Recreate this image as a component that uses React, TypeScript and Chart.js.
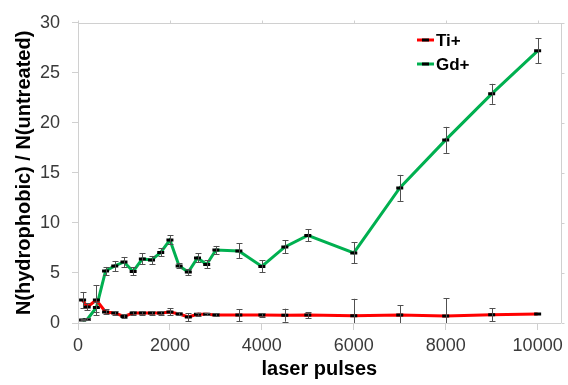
import React, { useEffect, useRef } from "react";
import { Chart, registerables } from "chart.js";

Chart.register(...registerables);

const pulses = [100, 200, 400, 600, 800, 1000, 1200, 1400, 1600, 1800, 2000, 2200, 2400, 2600, 2800, 3000, 3500, 4000, 4500, 5000, 6000, 7000, 8000, 9000, 10000];
const tiValues = [2.3, 1.6, 2.3, 1.1, 1.0, 0.65, 1.0, 1.0, 1.0, 1.0, 1.1, 0.9, 0.6, 0.88, 0.88, 0.8, 0.8, 0.8, 0.78, 0.8, 0.72, 0.8, 0.7, 0.82, 0.9];
const tiErrors = [0.8, 0.35, 1.5, 0.25, 0.2, 0.2, 0.2, 0.2, 0.2, 0.2, 0.35, 0.15, 0.4, 0.15, 0.1, 0.15, 0.6, 0.2, 0.65, 0.3, 1.7, 0.95, 1.75, 0.65, 0];
const gdValues = [0.3, 0.35, 1.55, 5.2, 5.7, 6.1, 5.15, 6.4, 6.3, 7.05, 8.3, 5.7, 5.1, 6.5, 5.85, 7.3, 7.2, 5.65, 7.6, 8.75, 7.0, 13.5, 18.3, 22.9, 27.2];
const gdErrors = [0.05, 0.1, 0.5, 0.4, 0.5, 0.5, 0.4, 0.55, 0.4, 0.4, 0.45, 0.25, 0.3, 0.45, 0.4, 0.4, 0.75, 0.6, 0.65, 0.6, 1.05, 1.3, 1.3, 1.0, 1.25];
const seriesNames = ["Ti+", "Gd+"];
const seriesColors = ["#ff0000", "#00b050"];
const xTicks = [0, 2000, 4000, 6000, 8000, 10000];
const yTicks = [0, 5, 10, 15, 20, 25, 30];

const FRAME = "#d0d0d0";

const errorBarPlugin = {
  id: "errorBars",
  afterDatasetsDraw(chart: any) {
    const { ctx, chartArea, scales } = chart;
    const x = scales.x;
    const y = scales.y;
    const errs = [tiErrors, gdErrors];
    ctx.save();
    ctx.beginPath();
    ctx.rect(chartArea.left, chartArea.top - 1, chartArea.right - chartArea.left, chartArea.bottom - chartArea.top + 1);
    ctx.clip();
    ctx.strokeStyle = "#505050";
    ctx.lineWidth = 1;
    chart.data.datasets.forEach((ds: any, di: number) => {
      ds.data.forEach((p: any, i: number) => {
        const e = errs[di][i];
        if (!e) return;
        const px = Math.round(x.getPixelForValue(p.x)) + 0.5;
        const y1 = y.getPixelForValue(p.y + e);
        const y2 = y.getPixelForValue(p.y - e);
        ctx.beginPath();
        ctx.moveTo(px, y1);
        ctx.lineTo(px, y2);
        ctx.moveTo(px - 3, Math.round(y1) + 0.5);
        ctx.lineTo(px + 3, Math.round(y1) + 0.5);
        ctx.moveTo(px - 3, Math.round(y2) + 0.5);
        ctx.lineTo(px + 3, Math.round(y2) + 0.5);
        ctx.stroke();
      });
    });
    ctx.restore();
  },
  afterDraw(chart: any) {
    const { ctx, chartArea, scales } = chart;
    const x = scales.x;
    const y = scales.y;
    ctx.save();
    ctx.strokeStyle = FRAME;
    ctx.lineWidth = 1;
    const top = Math.round(chartArea.top) + 0.5;
    const right = Math.round(chartArea.right) + 0.5;
    ctx.beginPath();
    ctx.moveTo(chartArea.left, top);
    ctx.lineTo(right + 2, top);
    ctx.moveTo(right, top);
    ctx.lineTo(right, chartArea.bottom);
    xTicks.forEach((v) => {
      const px = Math.round(x.getPixelForValue(v)) + 0.5;
      ctx.moveTo(px, top);
      ctx.lineTo(px, top - 3);
    });
    yTicks.forEach((v) => {
      const py = Math.round(y.getPixelForValue(v)) + 0.5;
      ctx.moveTo(right, py);
      ctx.lineTo(right + 3, py);
    });
    ctx.stroke();
    const lx = 417;
    const rows = [40, 64];
    ctx.font = "bold 17px 'Liberation Sans', Arial, sans-serif";
    ctx.textBaseline = "middle";
    ctx.textAlign = "left";
    rows.forEach((ly, i) => {
      ctx.strokeStyle = seriesColors[i];
      ctx.lineWidth = 3;
      ctx.beginPath();
      ctx.moveTo(lx, ly);
      ctx.lineTo(lx + 17, ly);
      ctx.stroke();
      ctx.strokeStyle = "#000";
      ctx.beginPath();
      ctx.moveTo(lx + 5, ly);
      ctx.lineTo(lx + 12, ly);
      ctx.stroke();
      ctx.fillStyle = "#000";
      ctx.fillText(seriesNames[i], lx + 19, ly + 1);
    });
    ctx.restore();
  },
};

export default function App() {
  const ref = useRef<HTMLCanvasElement | null>(null);
  useEffect(() => {
    if (!ref.current) return;
    const mk = (vals: number[]) => pulses.map((p, i) => ({ x: p, y: vals[i] }));
    const chart = new Chart(ref.current, {
      type: "line",
      data: {
        datasets: [
          {
            label: seriesNames[0],
            data: mk(tiValues),
            borderColor: seriesColors[0],
            backgroundColor: seriesColors[0],
            borderWidth: 3,
            tension: 0,
            pointStyle: "line",
            pointRadius: 3.5,
            pointBorderWidth: 3,
            pointBorderColor: "#000",
            pointBackgroundColor: "#000",
          },
          {
            label: seriesNames[1],
            data: mk(gdValues),
            borderColor: seriesColors[1],
            backgroundColor: seriesColors[1],
            borderWidth: 3,
            tension: 0,
            pointStyle: "line",
            pointRadius: 3.5,
            pointBorderWidth: 3,
            pointBorderColor: "#000",
            pointBackgroundColor: "#000",
          },
        ],
      },
      options: {
        responsive: false,
        animation: false,
        events: [],
        layout: { padding: { left: 0, top: 20, right: 7, bottom: 0 } },
        plugins: { legend: { display: false }, tooltip: { enabled: false } },
        scales: {
          x: {
            type: "linear",
            min: 0,
            max: 10500,
            afterFit: (s: any) => {
              s.height = 62;
            },
            afterBuildTicks: (s: any) => {
              s.ticks = xTicks.map((v) => ({ value: v }));
            },
            ticks: {
              font: { family: "'Liberation Sans', Arial, sans-serif", size: 18 },
              color: "#3a3a3a",
              padding: 5,
              maxRotation: 0,
              autoSkip: false,
              callback: (v: any) => String(v),
            },
            grid: { drawOnChartArea: false, drawTicks: true, tickLength: 7, color: FRAME },
            border: { display: true, color: FRAME },
            title: {
              display: true,
              text: "laser pulses",
              color: "#000",
              font: { family: "'Liberation Sans', Arial, sans-serif", size: 20, weight: "bold" },
              padding: { top: 0, bottom: 4 },
            },
          },
          y: {
            min: 0,
            max: 30,
            afterFit: (s: any) => {
              s.width = 78;
            },
            afterBuildTicks: (s: any) => {
              s.ticks = yTicks.map((v) => ({ value: v }));
            },
            ticks: {
              font: { family: "'Liberation Sans', Arial, sans-serif", size: 18 },
              color: "#3a3a3a",
              padding: 12,
              callback: (v: any) => String(v),
            },
            grid: { drawOnChartArea: false, drawTicks: true, tickLength: 6, color: FRAME },
            border: { display: true, color: FRAME },
            title: {
              display: true,
              text: "N(hydrophobic) / N(untreated)",
              color: "#000",
              font: { family: "'Liberation Sans', Arial, sans-serif", size: 20, weight: "bold" },
              padding: { top: 12, bottom: 0 },
            },
          },
        },
      },
      plugins: [errorBarPlugin],
    } as any);
    return () => chart.destroy();
  }, []);
  return (
    <div style={{ position: "absolute", left: 0, top: 0, width: 568, height: 385, background: "#fff" }}>
      <canvas ref={ref} width={568} height={385} />
    </div>
  );
}
